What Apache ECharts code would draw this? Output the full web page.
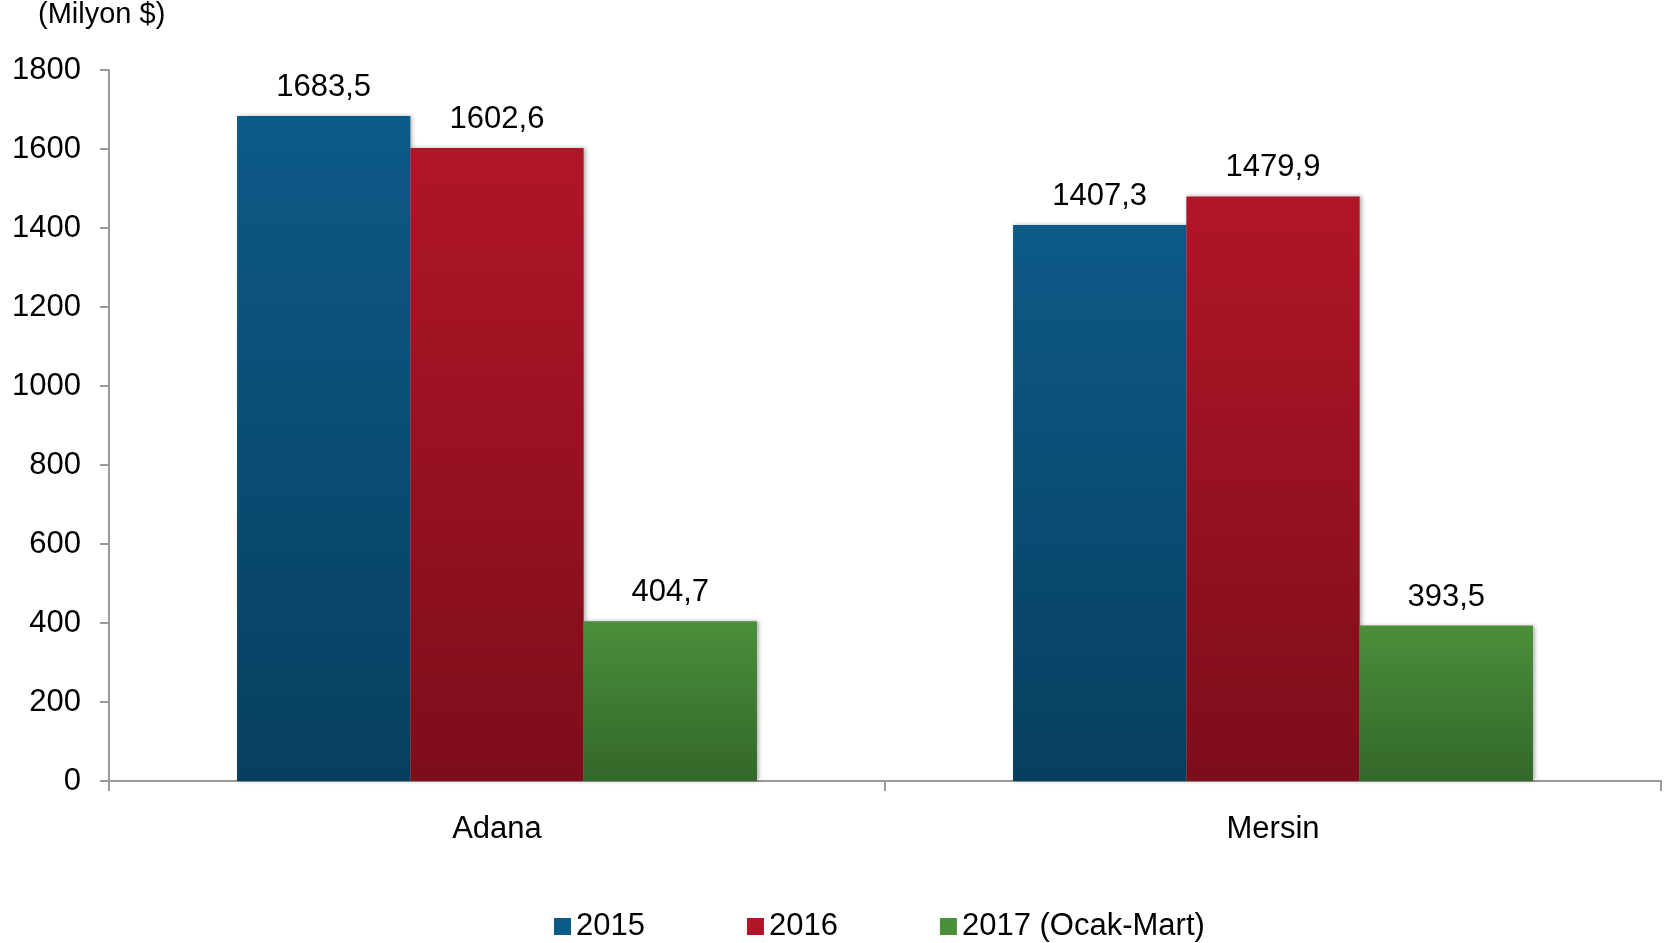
<!DOCTYPE html>
<html>
<head>
<meta charset="utf-8">
<script src="https://cdn.jsdelivr.net/npm/echarts@6/dist/echarts.min.js"></script>
<style>
  html, body { margin: 0; padding: 0; background: #fff; }
  #chart { width: 1669px; height: 943px; }
</style>
</head>
<body>
<div id="chart"></div>
<script>
// veriler
const categories = ['Adana', 'Mersin'];
const seriesNames = ['2015', '2016', '2017 (Ocak-Mart)'];
const values2015 = [1683.5, 1407.3];
const values2016 = [1602.6, 1479.9];
const values2017 = [404.7, 393.5];
const yTicks = [0, 200, 400, 600, 800, 1000, 1200, 1400, 1600, 1800];

const fontFamily = '"Liberation Sans", Arial, sans-serif';

function grad(top, bottom) {
  return new echarts.graphic.LinearGradient(0, 0, 0, 1, [
    { offset: 0, color: top },
    { offset: 1, color: bottom }
  ]);
}

const colors = [
  grad('#0d5a88', '#073f5f'),
  grad('#b01628', '#7d0d1a'),
  grad('#4a8f3a', '#33672a')
];
const legendColors = ['#0d5a88', '#b01628', '#4a8f3a'];

function makeSeries(name, data, i) {
  return {
    name: name,
    type: 'bar',
    data: data,
    barGap: '0%',
    barCategoryGap: '33%',
    itemStyle: {
      color: colors[i],
      shadowColor: 'rgba(0,0,0,0.3)',
      shadowBlur: 4,
      shadowOffsetX: 2,
      shadowOffsetY: 0
    },
    label: {
      show: true,
      position: 'top',
      distance: 13,
      color: '#000',
      fontSize: 31,
      fontFamily: fontFamily,
      formatter: p => p.value.toFixed(1).replace('.', ',')
    }
  };
}

const myChart = echarts.init(document.getElementById('chart'));
myChart.setOption({
  animation: false,
  graphic: [{
    type: 'text',
    left: 38,
    top: 0,
    style: { text: '(Milyon $)', fontSize: 29, fontFamily: fontFamily, fill: '#000' }
  }],
  legend: {
    top: 906,
    left: 549,
    itemWidth: 17,
    itemHeight: 17,
    itemGap: 102,
    icon: 'rect',
    textStyle: { fontSize: 31, fontFamily: fontFamily, color: '#000' },
    data: seriesNames.map((n, i) => ({ name: n, itemStyle: { color: legendColors[i] } }))
  },
  grid: { left: 109, right: 8, top: 70, bottom: 162, containLabel: false },
  xAxis: {
    type: 'category',
    data: categories,
    axisLine: { lineStyle: { color: '#999', width: 2 } },
    axisTick: { show: true, length: 10, lineStyle: { color: '#999', width: 2 } },
    axisLabel: { color: '#000', fontSize: 31, fontFamily: fontFamily, margin: 33 }
  },
  yAxis: {
    type: 'value',
    min: yTicks[0],
    max: yTicks[yTicks.length - 1],
    interval: 200,
    splitLine: { show: false },
    axisLine: { show: true, lineStyle: { color: '#999', width: 2 } },
    axisTick: { show: true, length: 9, lineStyle: { color: '#999', width: 2 } },
    axisLabel: {
      color: '#000', fontSize: 31, fontFamily: fontFamily, margin: 28,
      formatter: v => String(v)
    }
  },
  series: [
    makeSeries(seriesNames[0], values2015, 0),
    makeSeries(seriesNames[1], values2016, 1),
    makeSeries(seriesNames[2], values2017, 2)
  ]
});
</script>
</body>
</html>
